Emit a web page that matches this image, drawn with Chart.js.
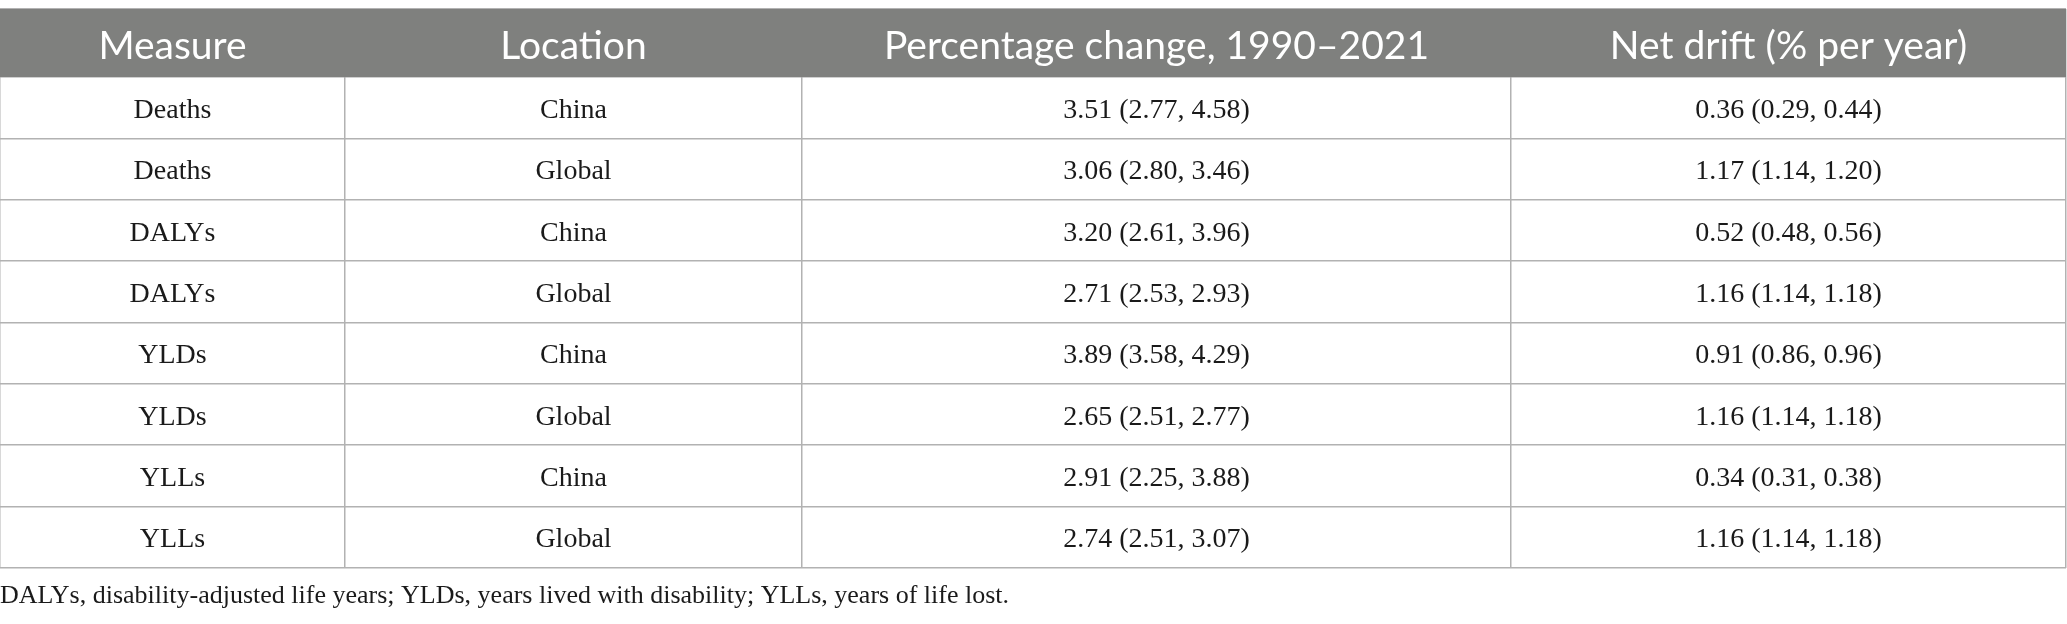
<!DOCTYPE html>
<html>
<head>
<meta charset="utf-8">
<title>Tabla</title>
<script src="https://cdn.jsdelivr.net/npm/chart.js@4.4.0/dist/chart.umd.min.js"></script>
<style>
  html, body { margin: 0; padding: 0; background: #ffffff; }
  #contenedor { width: 2067px; height: 624px; }
</style>
</head>
<body>
<div id="contenedor"><canvas id="myChart"></canvas></div>
<script>
// Datos
//? encabezados de columna
const encabezados = ["Measure", "Location", "Percentage change, 1990\u20132021", "Net drift (% per year)"];
//? medidas y lugares (filas)
const medidas = ["Deaths", "Deaths", "DALYs", "DALYs", "YLDs", "YLDs", "YLLs", "YLLs"];
const lugares = ["China", "Global", "China", "Global", "China", "Global", "China", "Global"];
//? cambio porcentual 1990-2021 (estimado, IC bajo, IC alto)
const cambio = [3.51, 3.06, 3.20, 2.71, 3.89, 2.65, 2.91, 2.74];
const cambioBajo = [2.77, 2.80, 2.61, 2.53, 3.58, 2.51, 2.25, 2.51];
const cambioAlto = [4.58, 3.46, 3.96, 2.93, 4.29, 2.77, 3.88, 3.07];
//? deriva neta (% por año)
const deriva = [0.36, 1.17, 0.52, 1.16, 0.91, 1.16, 0.34, 1.16];
const derivaBaja = [0.29, 1.14, 0.48, 1.14, 0.86, 1.14, 0.31, 1.14];
const derivaAlta = [0.44, 1.20, 0.56, 1.18, 0.96, 1.18, 0.38, 1.18];
//? nota al pie
const notaPie = "DALYs, disability-adjusted life years; YLDs, years lived with disability; YLLs, years of life lost.";

// Diseño
//? anchos relativos de columna y alto del encabezado (en filas)
const anchosColumna = [345, 457, 709, 555];
const altoEncabezado = 1.11;
const colorEncabezado = "#7f807e";
const colorLinea = "#b2b2b2";

// Funciones
//? formatear "valor (bajo, alto)"
function formatoIC(v, b, a) {
  return `${v.toFixed(2)} (${b.toFixed(2)}, ${a.toFixed(2)})`;
}

//? bordes acumulados de columnas
const bordesX = anchosColumna.reduce((acc, w) => {
  acc.push(acc[acc.length - 1] + w);
  return acc;
}, [0]);
const anchoTotal = bordesX[bordesX.length - 1];

//? bordes de filas (encabezado + filas de datos)
const bordesY = [0].concat(medidas.map((_, i) => altoEncabezado + i), [altoEncabezado + medidas.length]);

//? celdas de cada fila
const filas = medidas.map((m, i) => [
  m,
  lugares[i],
  formatoIC(cambio[i], cambioBajo[i], cambioAlto[i]),
  formatoIC(deriva[i], derivaBaja[i], derivaAlta[i]),
]);

//? plugin que pinta encabezado y textos con las escalas
const pluginTabla = {
  id: "tabla",
  beforeDatasetsDraw(chart) {
    const { ctx, scales: { x, y } } = chart;
    const x0 = x.getPixelForValue(0);
    const x1 = x.getPixelForValue(anchoTotal);
    const y0 = y.getPixelForValue(0);
    const y1 = y.getPixelForValue(altoEncabezado);
    ctx.save();
    ctx.fillStyle = colorEncabezado;
    ctx.fillRect(x0, y0, x1 - x0, y1 - y0);
    ctx.restore();
  },
  afterDraw(chart) {
    const { ctx, scales: { x, y } } = chart;
    ctx.save();
    ctx.textAlign = "center";
    ctx.textBaseline = "middle";
    //Encabezado
    ctx.fillStyle = "#ffffff";
    ctx.font = "39px Lato";
    encabezados.forEach((t, c) => {
      const cx = x.getPixelForValue((bordesX[c] + bordesX[c + 1]) / 2);
      const cy = y.getPixelForValue(altoEncabezado / 2) + 3;
      ctx.fillText(t, cx, cy);
    });
    //Filas
    ctx.fillStyle = "#1a1a1a";
    ctx.font = "28px 'Liberation Serif'";
    filas.forEach((fila, r) => {
      const cy = y.getPixelForValue(altoEncabezado + r + 0.5) + 3;
      fila.forEach((t, c) => {
        const cx = x.getPixelForValue((bordesX[c] + bordesX[c + 1]) / 2);
        ctx.fillText(t, cx, cy);
      });
    });
    ctx.restore();
  },
};

//? render tabla
function renderTabla() {
  const ctx = document.getElementById("myChart");
  const config = {
    type: "scatter",
    data: { datasets: [] },
    options: {
      responsive: true,
      maintainAspectRatio: false,
      animation: false,
      layout: { padding: { top: 9, left: 0, right: 1, bottom: 0 } },
      plugins: {
        legend: { display: false },
        tooltip: { enabled: false },
        title: {
          display: true,
          position: "bottom",
          align: "start",
          text: notaPie,
          color: "#1a1a1a",
          font: { family: "'Liberation Serif'", size: 26, weight: "normal", lineHeight: 1.2 },
          padding: { top: 13, bottom: 12 },
        },
      },
      scales: {
        x: {
          type: "linear",
          min: 0,
          max: anchoTotal,
          z: 1,
          afterBuildTicks: (s) => { s.ticks = bordesX.map((v) => ({ value: v })); },
          ticks: { display: false },
          grid: { color: colorLinea, lineWidth: 1.5, drawTicks: false },
          border: { display: false },
        },
        y: {
          type: "linear",
          reverse: true,
          min: 0,
          max: altoEncabezado + medidas.length,
          z: 1,
          afterBuildTicks: (s) => { s.ticks = bordesY.map((v) => ({ value: v })); },
          ticks: { display: false },
          grid: { color: colorLinea, lineWidth: 1.5, drawTicks: false },
          border: { display: false },
        },
      },
    },
    plugins: [pluginTabla],
  };
  new Chart(ctx, config);
}

renderTabla();
</script>
</body>
</html>
